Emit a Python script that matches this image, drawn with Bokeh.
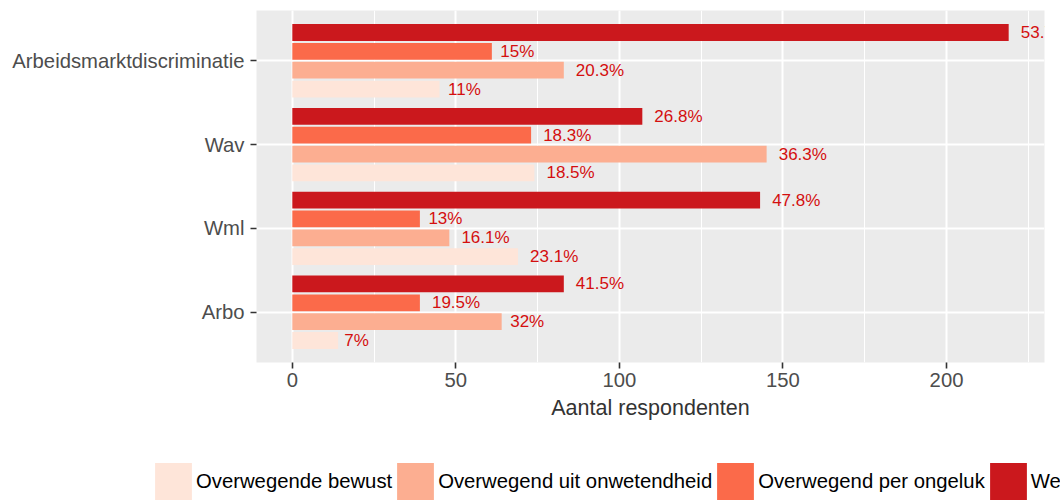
from bokeh.plotting import figure
from bokeh.layouts import column
from bokeh.models import (FactorRange, Range1d, Legend, LegendItem, ColumnDataSource,
                          SingleIntervalTicker)
from bokeh.transform import dodge
from bokeh.core.properties import value
from bokeh.embed import file_html
from bokeh.resources import INLINE

# ---- data ----
categories = ["Arbo", "Wml", "Wav", "Arbeidsmarktdiscriminatie"]
groups = ["Overwegende bewust", "Overwegend uit onwetendheid",
          "Overwegend per ongeluk", "Weet niet"]
n_bewust = [14, 69, 74, 45]
n_onwetend = [64, 48, 145, 83]
n_ongeluk = [39, 39, 73, 61]
n_weetniet = [83, 143, 107, 219]
pct_bewust = ["7%", "23.1%", "18.5%", "11%"]
pct_onwetend = ["32%", "16.1%", "36.3%", "20.3%"]
pct_ongeluk = ["19.5%", "13%", "18.3%", "15%"]
pct_weetniet = ["41.5%", "47.8%", "26.8%", "53.7%"]
x_ticks_interval = 50

colors = ["#FEE5D9", "#FCAE91", "#FB6A4A", "#CB181D"]
offsets = [-0.3375, -0.1125, 0.1125, 0.3375]
FONT = "Liberation Sans"
LABEL_PX = 17

char_w = {c: 0.556 for c in "0123456789"}
char_w["."] = 0.278
char_w["%"] = 0.889


def text_offset(s):
    w = sum(char_w.get(c, 0.556) for c in s) * LABEL_PX
    return 0.25 * w


p = figure(width=1060, height=455,
           y_range=FactorRange(factors=categories, range_padding=0.1,
                               range_padding_units="absolute"),
           x_range=Range1d(-10.95, 229.95),
           output_backend="svg", toolbar_location=None,
           min_border_left=256, min_border_right=16, min_border_top=10,
           min_border_bottom=93)

p.background_fill_color = "#EBEBEB"
p.border_fill_color = "white"
p.outline_line_color = None

# legend-only figure below the chart
pl = figure(width=1060, height=45, x_range=Range1d(0, 1),
            y_range=FactorRange(factors=categories),
            x_axis_type=None, y_axis_type=None,
            output_backend="svg", toolbar_location=None, min_border=0)
pl.outline_line_color = None
pl.background_fill_color = "white"
pl.border_fill_color = "white"
pl.xgrid.visible = False
pl.ygrid.visible = False
for fig in (p, pl):
    if "frame_align" in fig.properties():
        fig.frame_align = False

series = [(n_bewust, pct_bewust), (n_onwetend, pct_onwetend),
          (n_ongeluk, pct_ongeluk), (n_weetniet, pct_weetniet)]

items = []
for (vals, pcts), col, off, g in zip(series, colors, offsets, groups):
    src = ColumnDataSource(dict(cat=categories, n=vals, label=pcts,
                                xoff=[text_offset(s) for s in pcts]))
    p.hbar(y=dodge("cat", off, range=p.y_range), left=0, right="n",
           height=0.2, fill_color=col, line_color=None, source=src)
    p.text(x="n", y=dodge("cat", off, range=p.y_range), text="label",
           x_offset="xoff", text_baseline="middle", text_align="left",
           text_font=value(FONT), text_font_size=f"{LABEL_PX}px",
           text_color="#D40F0F", source=src)
    r2 = pl.hbar(y="cat", left=0, right="n", height=0.2, fill_color=col,
                 line_color=None, source=src, visible=False)
    items.append(LegendItem(label=g, renderers=[r2]))

GLYPH = 46
legend = Legend(items=items, orientation="horizontal", location=(150, -4),
                glyph_width=GLYPH, glyph_height=GLYPH, label_standoff=0, spacing=0,
                padding=0, margin=0, border_line_color=None,
                background_fill_alpha=0, inactive_fill_alpha=0,
                label_text_font=FONT,
                label_text_font_size="20.3px", label_text_color="black",
                label_height=46)
pl.add_layout(legend, "center")

# axes
p.xaxis.ticker = SingleIntervalTicker(interval=x_ticks_interval, num_minor_ticks=2)
p.xaxis.axis_label = "Aantal respondenten"
for ax in (p.xaxis, p.yaxis):
    ax.axis_line_color = None
    ax.minor_tick_line_color = None
    ax.major_tick_in = 0
    ax.major_tick_out = 6
    ax.major_tick_line_color = "#333333"
    ax.major_tick_line_width = 1.6
    ax.major_label_text_font = FONT
    ax.major_label_text_font_size = "20.3px"
    ax.major_label_text_color = "#4D4D4D"
p.xaxis.major_label_standoff = 4
p.yaxis.major_label_standoff = 6
p.xaxis.axis_label_text_font = FONT
p.xaxis.axis_label_text_font_size = "21.5px"
p.xaxis.axis_label_text_font_style = "normal"
p.xaxis.axis_label_text_color = "#333333"
p.xaxis.axis_label_standoff = 6

p.xgrid.grid_line_color = "white"
p.xgrid.grid_line_width = 2
p.xgrid.minor_grid_line_color = "white"
p.xgrid.minor_grid_line_width = 1
p.ygrid.grid_line_color = "white"
p.ygrid.grid_line_width = 2

layout = column(p, pl, spacing=0)
open("out.html", "w").write(file_html(layout, INLINE))
